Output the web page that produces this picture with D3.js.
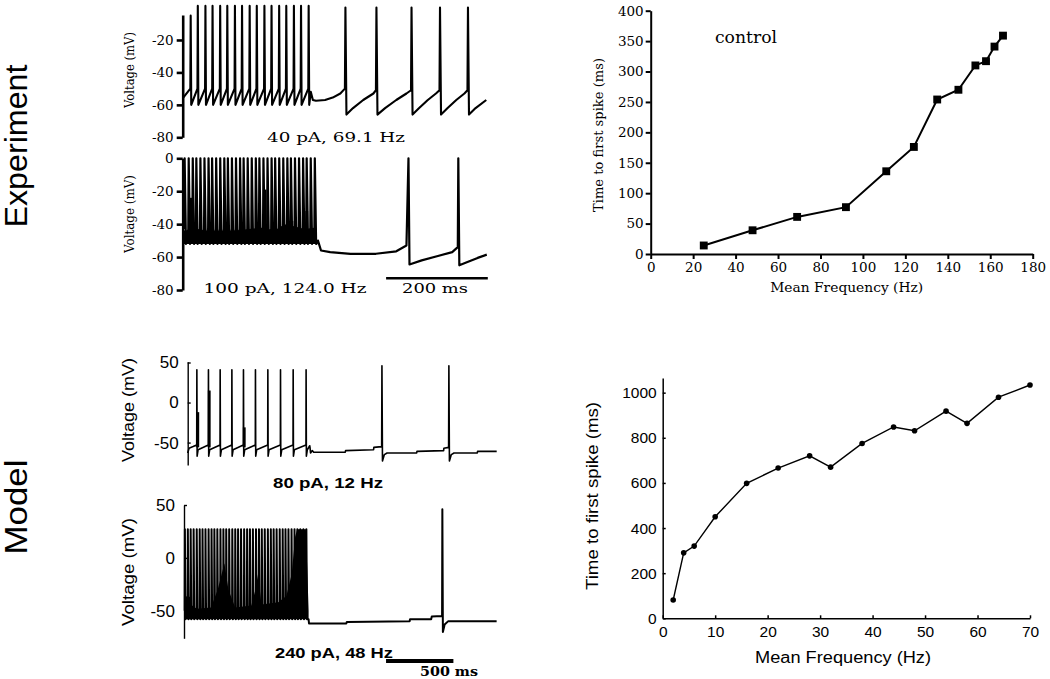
<!DOCTYPE html>
<html><head><meta charset="utf-8">
<script src="https://cdn.jsdelivr.net/npm/d3@7/dist/d3.min.js"></script>
<style>body{margin:0;background:#fff}svg{display:block}</style>
</head><body>
<svg id="chart" width="1050" height="679"></svg>
<script>
// ================= DATA =================
// Experiment trace A: 40 pA, 69.1 Hz (time ms, voltage mV)
const expA_spikeTimes = [15, 29, 44, 58, 73, 87, 102, 116, 131, 145, 160, 174, 189, 203, 218, 232, 247];
const expA_spikePeaks = [-5, 1, 1, 1, 1, 1, 1, 1, 1, 1, 1, 1, 1, 1, 1, 1, 1];
const expA_start = [[0, -56]];
const expA_threshold = -50, expA_trough = -60;
const expA_tail = [[252,-52],[256,-57],[262,-57.5],[280,-57],[295,-55.5],[310,-53],[319,-50],[320,0],[322,-66],[335,-62],[355,-57],[375,-53],[380,-51],[381,0],[383,-66],[398,-62],[420,-57],[440,-53],[449,-51],[450,0],[452,-66],[465,-62],[482,-57],[498,-53],[505,-51],[506,0],[508,-66],[521,-62],[538,-57],[554,-53],[560,-51],[561,0],[563,-66],[576,-62],[597,-57]];
const expA_ticks = [-20, -40, -60, -80];

// Experiment trace B: 100 pA, 124.0 Hz
const expB_spikeTimes = [3, 11, 19, 26, 34, 42, 50, 57, 65, 73, 81, 88, 96, 104, 112, 119, 127, 135, 143, 150, 158, 166, 174, 181, 189, 197, 205, 212, 220, 228, 236, 243, 251, 259];
const expB_peak = 0;
const expB_threshold = -43, expB_trough = -52;
const expB_partial = [[16,-24],[162,-19],[221,-38],[244,-32]];
const expB_band = [[0,-44],[30,-43],[60,-45],[100,-44],[130,-43],[160,-42],[180,-44],[200,-40],[215,-41],[240,-43],[262,-42]];
const expB_tail = [[263,-52],[266,-50],[272,-56],[290,-57],[330,-58],[380,-58],[420,-56.5],[440,-53],[444,0],[446,-64.5],[470,-62],[500,-59.5],[530,-57],[541,-54],[542,0],[544,-65],[560,-63],[580,-60.5],[598,-58.5]];
const expB_ticks = [0, -20, -40, -60, -80];

// Model trace A: 80 pA, 12 Hz
const modA_start = [[0,-63],[10,-57],[40,-55]];
const modA_spikeTimes = [67, 153, 240, 327, 413, 502, 594, 688, 782, 878];
const modA_peak = 41;
const modA_threshold = -53, modA_trough = -67, modA_recover = -59;
const modA_partial = [[75,-12],[160,15],[420,-31]];
const modA_tail = [[906,-54],[908,-56],[912,-63],[925,-60],[935,-62],[1170,-62],[1172,-60],[1380,-59],[1382,-56],[1440,-55],[1442,46],[1446,-73],[1460,-65],[1480,-63],[1700,-63],[1702,-61],[1900,-60],[1902,-57],[1937,-56],[1939,46],[1943,-73],[1957,-65],[1977,-63],[2150,-63],[2152,-61],[2294,-61]];
const modA_ticks = [50, 0, -50];

// Model trace B: 240 pA, 48 Hz
const modB_spikeTimes = [5, 27, 48, 70, 93, 115, 136, 158, 181, 203, 224, 246, 269, 291, 312, 334, 357, 379, 400, 422, 445, 467, 488, 510, 533, 555, 576, 598, 621, 643, 664, 686, 709, 731, 752, 774, 797, 819, 840, 862, 885, 907];
const modB_peak = 27;
const modB_threshold = -50, modB_trough = -58;
const modB_fill = [[0,-36],[50,-37],[60,-45],[95,-48],[200,-47],[250,-30],[300,-5],[330,-30],[380,-47],[500,-45],[530,-30],[550,-15],[575,-44],[700,-42],[760,-36],[800,-15],[825,20],[840,27],[905,27],[915,-10],[925,-50]];
const modB_tail = [[925,-58],[928,-62],[1205,-62],[1209,-60.5],[1675,-60],[1678,-58],[1835,-58],[1839,-55.5],[1916,-55],[1918,46],[1922,-70],[1935,-63],[1960,-60],[2321,-60]];
const modB_ticks = [50, 0, -50];

// F-I summary: experiment (control)
const expFreq = [25, 48, 69, 92, 111, 124, 135, 145, 153, 158, 162, 166];
const expTTFS = [14, 39, 61, 77, 136, 176, 254, 270, 310, 317, 341, 359];
const expXTicks = [0, 20, 40, 60, 80, 100, 120, 140, 160, 180];
const expYTicks = [0, 50, 100, 150, 200, 250, 300, 350, 400];

// F-I summary: model
const modFreq = [2, 4, 6, 10, 16, 22, 28, 32, 38, 44, 48, 54, 58, 64, 70];
const modTTFS = [81, 290, 320, 450, 598, 666, 720, 670, 775, 848, 831, 918, 864, 980, 1034];
const modXTicks = [0, 10, 20, 30, 40, 50, 60, 70];
const modYTicks = [0, 200, 400, 600, 800, 1000];

// ================= DRAW =================
const svg = d3.select('#chart');
svg.append('rect').attr('width',1050).attr('height',679).attr('fill','#fff');
const serif = "'DejaVu Serif', 'Liberation Serif', serif";
const sans = "'Liberation Sans', Arial, sans-serif";

function label(x, y, s, o = {}) {
  const t = svg.append('text')
    .attr('transform', `translate(${x},${y})` + (o.rotate ? ` rotate(${o.rotate})` : ''))
    .attr('text-anchor', o.anchor || 'middle')
    .attr('font-family', o.family || sans)
    .attr('font-size', o.size || 14)
    .attr('font-weight', o.weight || 'normal')
    .attr('fill', '#000')
    .text(s);
  if (o.len) t.attr('textLength', o.len).attr('lengthAdjust', 'spacingAndGlyphs');
  return t;
}

function spikeTrain(times, peaks, pre, trough, rise, fall, recover) {
  const pts = [];
  times.forEach((t, i) => {
    const pk = Array.isArray(peaks) ? peaks[i] : peaks;
    pts.push([t, pre]);
    pts.push([t + rise, pk]);
    pts.push([t + fall, trough]);
    if (recover) pts.push([t + recover[0], recover[1]]);
  });
  return pts;
}

function drawTrace(pts, x, y, w) {
  svg.append('path').datum(pts)
    .attr('d', d3.line().x(d => x(d[0])).y(d => y(d[1])))
    .attr('fill', 'none').attr('stroke', '#000')
    .attr('stroke-width', w).attr('stroke-linejoin', 'round');
}

function styleAxis(g, o) {
  g.attr('font-family', o.family).attr('font-size', o.size);
  g.select('.domain').attr('stroke-width', o.lw).attr('stroke', '#000');
  g.selectAll('.tick line').attr('stroke-width', o.lw).attr('stroke', '#000');
  g.selectAll('.tick text').attr('fill', '#000').attr('font-weight', o.weight || 'normal');
}

// ---------- Experiment trace A ----------
const xE = d3.scaleLinear().domain([0, 600]).range([182.7, 487.8]);
const yEA = d3.scaleLinear().domain([-80, -4.6]).range([137.3, 15]);
drawTrace(expA_start.concat(spikeTrain(expA_spikeTimes, expA_spikePeaks, expA_threshold, expA_trough, 0.7, 1.8)).concat(expA_tail), xE, yEA, 2.1);
const gEA = svg.append('g').attr('transform', 'translate(182.7,0)')
  .call(d3.axisLeft(yEA).tickValues(expA_ticks).tickSize(6).tickSizeOuter(0).tickPadding(3).tickFormat(d => String(d)));
styleAxis(gEA, {family: serif, size: 13.5, lw: 2.6});
label(133.5, 70, 'Voltage (mV)', {family: serif, size: 12, rotate: -90, len: 76});
label(336, 142, '40 pA, 69.1 Hz', {family: serif, size: 13.5, len: 138});

// ---------- Experiment trace B ----------
const yEB = d3.scaleLinear().domain([-80, 0]).range([290, 158.3]);
svg.append('path').datum(expB_band)
  .attr('d', d3.area().x(d => xE(d[0])).y0(yEB(expB_trough)).y1(d => yEB(d[1])))
  .attr('fill', '#000');
drawTrace(spikeTrain(expB_spikeTimes, expB_peak, expB_threshold, expB_trough, 0.8, 3.4).concat(expB_tail), xE, yEB, 2.2);
expB_partial.forEach(p => {
  svg.append('line').attr('x1', xE(p[0])).attr('x2', xE(p[0]))
    .attr('y1', yEB(expB_trough)).attr('y2', yEB(p[1]))
    .attr('stroke', '#000').attr('stroke-width', 2.8);
});
const gEB = svg.append('g').attr('transform', 'translate(182.7,0)')
  .call(d3.axisLeft(yEB).tickValues(expB_ticks).tickSize(6).tickSizeOuter(0).tickPadding(3).tickFormat(d => String(d)));
styleAxis(gEB, {family: serif, size: 13.5, lw: 2.6});
label(133.5, 214, 'Voltage (mV)', {family: serif, size: 12, rotate: -90, len: 78});
label(285, 293, '100 pA, 124.0 Hz', {family: serif, size: 13.5, len: 163});
// scale bar 200 ms
svg.append('line').attr('x1', xE(400)).attr('x2', xE(600)).attr('y1', 278.3).attr('y2', 278.3)
  .attr('stroke', '#000').attr('stroke-width', 2.6);
label(435, 293, '200 ms', {family: serif, size: 13.5, len: 66});

// ---------- Experiment F-I plot ----------
const xEF = d3.scaleLinear().domain([0, 180]).range([650.7, 1032.7]);
const yEF = d3.scaleLinear().domain([0, 400]).range([254, 10.7]);
const gEFx = svg.append('g').attr('transform', 'translate(0,254)')
  .call(d3.axisBottom(xEF).tickValues(expXTicks).tickSize(5).tickSizeOuter(0).tickPadding(3).tickFormat(d => String(d)));
styleAxis(gEFx, {family: serif, size: 13.5, lw: 2});
const gEFy = svg.append('g').attr('transform', 'translate(650.7,0)')
  .call(d3.axisLeft(yEF).tickValues(expYTicks).tickSize(5).tickSizeOuter(0).tickPadding(2).tickFormat(d => String(d)));
styleAxis(gEFy, {family: serif, size: 13.5, lw: 2});
svg.append('path').datum(expFreq.map((f, i) => [f, expTTFS[i]]))
  .attr('d', d3.line().x(d => xEF(d[0])).y(d => yEF(d[1])))
  .attr('fill', 'none').attr('stroke', '#000').attr('stroke-width', 2);
svg.selectAll('.expPt').data(expFreq.map((f, i) => [f, expTTFS[i]])).enter()
  .append('path').attr('class', 'expPt')
  .attr('transform', d => `translate(${xEF(d[0])},${yEF(d[1])})`)
  .attr('d', d3.symbol().type(d3.symbolSquare).size(62)).attr('fill', '#000');
label(746, 43, 'control', {family: serif, size: 16, len: 62});
label(603, 135, 'Time to first spike (ms)', {family: serif, size: 13.5, rotate: -90, len: 154});
label(846.7, 292, 'Mean Frequency (Hz)', {family: serif, size: 13.5, len: 153});

// ---------- Model trace A ----------
const xMA = d3.scaleLinear().domain([0, 2300]).range([187.7, 187.7 + 2300 * 0.1347]);
const yMA = d3.scaleLinear().domain([-78, 51]).range([465, 361.7]);
drawTrace(modA_start.concat(spikeTrain(modA_spikeTimes, modA_peak, modA_threshold, modA_trough, 1, 3, [10, modA_recover])).concat(modA_tail), xMA, yMA, 1.6);
modA_partial.forEach(p => {
  svg.append('line').attr('x1', xMA(p[0])).attr('x2', xMA(p[0]))
    .attr('y1', yMA(-56)).attr('y2', yMA(p[1]))
    .attr('stroke', '#000').attr('stroke-width', 2.8);
});
const gMA = svg.append('g').attr('transform', 'translate(187.7,0)')
  .call(d3.axisLeft(yMA).tickValues(modA_ticks).tickSize(-3).tickSizeOuter(0).tickPadding(9).tickFormat(d => String(d)));
styleAxis(gMA, {family: sans, size: 17, lw: 1.4});
label(134, 410, 'Voltage (mV)', {family: sans, size: 16, rotate: -90, len: 104});
label(328, 488, '80 pA, 12 Hz', {family: sans, size: 15, weight: 'bold', len: 110});

// ---------- Model trace B ----------
const xMB = d3.scaleLinear().domain([0, 2321]).range([184, 184 + 2321 * 0.1347]);
const yMB = d3.scaleLinear().domain([-76, 50]).range([638.3, 505]);
svg.append('path').datum(modB_fill)
  .attr('d', d3.area().x(d => xMB(d[0])).y0(yMB(modB_trough)).y1(d => yMB(d[1])))
  .attr('fill', '#000');
drawTrace(spikeTrain(modB_spikeTimes, modB_peak, modB_threshold, modB_trough, 1.5, 6).concat(modB_tail), xMB, yMB, 2.0);
const gMB = svg.append('g').attr('transform', 'translate(184,0)')
  .call(d3.axisLeft(yMB).tickValues(modB_ticks).tickSize(-3).tickSizeOuter(0).tickPadding(9).tickFormat(d => String(d)));
styleAxis(gMB, {family: sans, size: 17, lw: 1.4});
label(134, 572, 'Voltage (mV)', {family: sans, size: 16, rotate: -90, len: 108});
label(334, 658, '240 pA, 48 Hz', {family: sans, size: 15, weight: 'bold', len: 118});
svg.append('line').attr('x1', xMB(1500)).attr('x2', xMB(2000)).attr('y1', 661).attr('y2', 661)
  .attr('stroke', '#000').attr('stroke-width', 4);
label(449, 676, '500 ms', {family: serif, size: 13.5, weight: 'bold', len: 58});

// ---------- Model F-I plot ----------
const xMF = d3.scaleLinear().domain([0, 70]).range([662.7, 1030]);
const yMF = d3.scaleLinear().domain([0, 1065]).range([618.3, 378]);
const gMFx = svg.append('g').attr('transform', 'translate(0,618.3)')
  .call(d3.axisBottom(xMF).tickValues(modXTicks).tickSize(-3).tickSizeOuter(0).tickPadding(8).tickFormat(d => String(d)));
styleAxis(gMFx, {family: sans, size: 15.5, lw: 1.5});
const gMFy = svg.append('g').attr('transform', 'translate(662.7,0)')
  .call(d3.axisLeft(yMF).tickValues(modYTicks).tickSize(-3).tickSizeOuter(0).tickPadding(6).tickFormat(d => String(d)));
styleAxis(gMFy, {family: sans, size: 15.5, lw: 1.5});
svg.append('path').datum(modFreq.map((f, i) => [f, modTTFS[i]]))
  .attr('d', d3.line().x(d => xMF(d[0])).y(d => yMF(d[1])))
  .attr('fill', 'none').attr('stroke', '#000').attr('stroke-width', 1.4);
svg.selectAll('.modPt').data(modFreq.map((f, i) => [f, modTTFS[i]])).enter()
  .append('circle').attr('class', 'modPt')
  .attr('cx', d => xMF(d[0])).attr('cy', d => yMF(d[1])).attr('r', 2.8).attr('fill', '#000');
label(598, 496, 'Time to first spike (ms)', {family: sans, size: 16, rotate: -90, len: 188});
label(843, 663, 'Mean Frequency (Hz)', {family: sans, size: 16, len: 176});

// ---------- Row labels ----------
label(27, 146, 'Experiment', {family: sans, size: 31, rotate: -90, len: 163});
label(27, 507, 'Model', {family: sans, size: 31, rotate: -90, len: 95});
</script>
</body></html>
